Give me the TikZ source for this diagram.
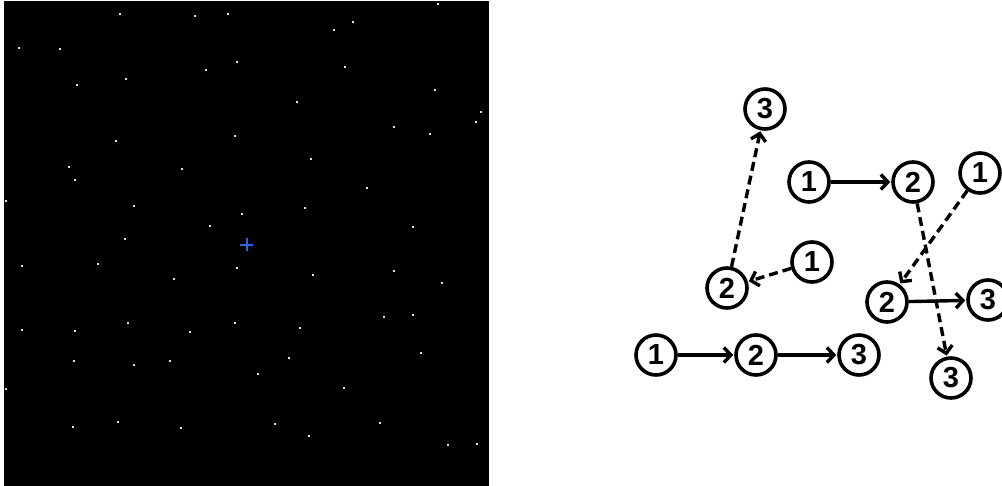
\documentclass[tikz,border=0pt]{standalone}
\usepackage{fontspec}
\setmainfont{Liberation Sans}
\usetikzlibrary{arrows.meta}
\definecolor{starcol}{RGB}{225,225,225}
\definecolor{crosscol}{RGB}{45,100,235}
\tikzset{
  num/.style={circle,draw=black,line width=3.6pt,minimum size=40pt,inner sep=0pt,
    font=\fontsize{29}{29}\selectfont\bfseries},
  link/.style={line width=3.4pt,-{Straight Barb[length=7pt,width=15pt]},shorten >=1pt,shorten <=0pt},
  dlink/.style={link,dash pattern=on 9pt off 5pt},
  star/.style={fill=starcol}
}
\begin{document}
\begin{tikzpicture}[x=1pt,y=-1pt]
\useasboundingbox (0,0) rectangle (1002,486);
\fill[black] (4,1) rectangle (489,486);
\foreach \x/\y in {120/14,195/16,228/14,19/48,60/49,237/62,206/70,126/79,77/85,235/136,116/141,69/167,75/180,182/169,6/201,134/206,242/214,210/226,125/239,
438/4,353/22,334/30,345/67,435/90,297/102,481/112,476/122,394/127,430/134,311/159,367/188,305/208,413/227,
22/266,98/264,174/279,237/268,22/330,75/331,128/323,190/332,235/323,74/361,134/365,170/361,6/389,73/427,118/422,181/428,
313/275,394/271,442/283,384/317,413/315,300/328,289/358,421/353,258/374,344/388,275/424,309/436,380/423,448/445,477/444}
  \fill[star] (\x-1,\y-1) rectangle (\x+1,\y+1);
\draw[crosscol,line width=2pt] (240,245) -- (253,245) (246.5,238.5) -- (246.5,251.5);

\node[num] (a3) at (765,109) {3};
\node[num] (b1) at (809,182) {1};
\node[num] (b2) at (913,182) {2};
\node[num] (c1) at (980,173) {1};
\node[num] (d2) at (727,288) {2};
\node[num] (d1) at (812,262) {1};
\node[num] (e2) at (887,302) {2};
\node[num] (e3) at (988,300) {3};
\node[num] (f1) at (656,355) {1};
\node[num] (f2) at (756,355) {2};
\node[num] (f3) at (859,355) {3};
\node[num] (g3) at (951,378) {3};

\draw[link] (f1) -- (f2);
\draw[link] (f2) -- (f3);
\draw[link] (b1) -- (b2);
\draw[link] (e2) -- (e3);
\draw[dlink] (d2) -- (a3);
\draw[dlink] (d1) -- (d2);
\draw[dlink] (b2) -- (g3);
\draw[dlink] (c1) -- (e2);
\end{tikzpicture}
\end{document}
